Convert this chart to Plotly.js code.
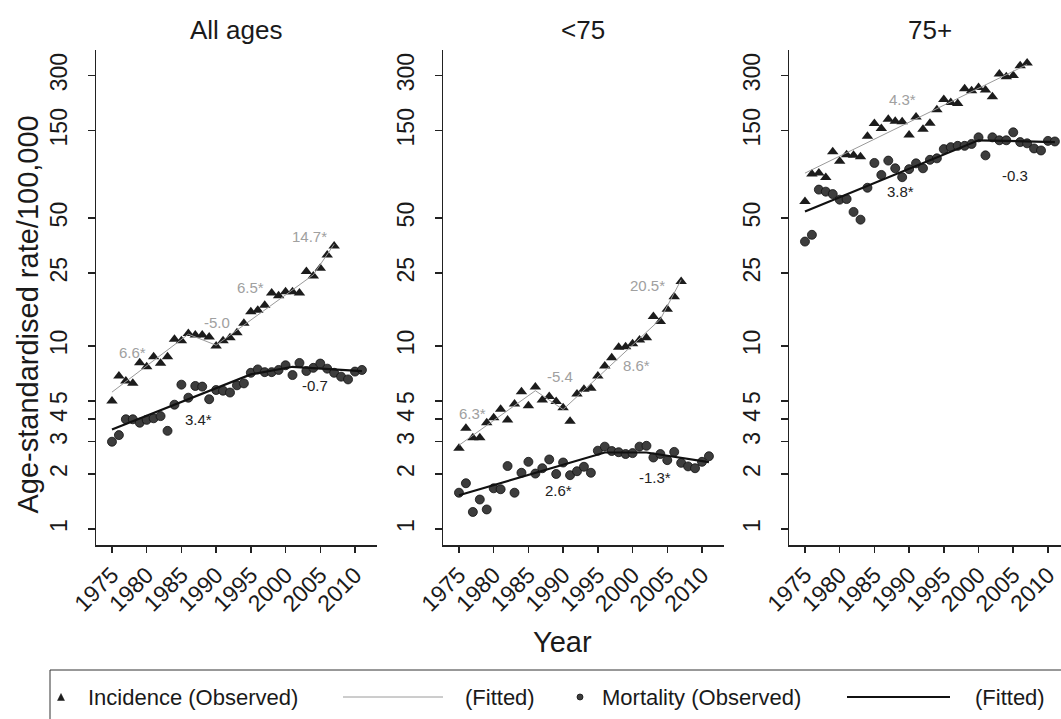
<!DOCTYPE html>
<html>
<head>
<meta charset="utf-8">
<script src="https://cdn.plot.ly/plotly-3.0.1.min.js"></script>
<style>html,body{margin:0;padding:0;background:#fff;}#chart{width:1061px;height:719px;}</style>
</head>
<body>
<div id="chart"></div>
<script>
// ---------- data ----------
const panelTitles = ["All ages", "&lt;75", "75+"];
const xTickVals = [1975, 1980, 1985, 1990, 1995, 2000, 2005, 2010];
const yTickVals = [1, 2, 3, 4, 5, 10, 25, 50, 150, 300];
const yTickText = ["1", "2", "3", "4", "5", "10", "25", "50", "150", "300"];

const yearsInc = [1975,1976,1977,1978,1979,1980,1981,1982,1983,1984,1985,1986,1987,1988,1989,1990,
  1991,1992,1993,1994,1995,1996,1997,1998,1999,2000,2001,2002,2003,2004,2005,2006,2007];
const yearsMort = [1975,1976,1977,1978,1979,1980,1981,1982,1983,1984,1985,1986,1987,1988,1989,1990,
  1991,1992,1993,1994,1995,1996,1997,1998,1999,2000,2001,2002,2003,2004,2005,2006,2007,2008,2009,2010,2011];

// All ages
const incAll = [5.0,6.86,6.44,6.26,8.11,7.71,8.74,8.04,8.74,10.9,10.7,11.7,11.5,11.5,11.2,10.0,
  10.7,11.1,11.8,13.3,15.4,15.7,16.7,19.5,18.8,19.8,19.8,19.5,25.5,24.1,26.6,31.4,35.2];
const mortAll = [3.0,3.26,3.98,3.98,3.81,3.95,4.03,4.14,3.44,4.78,6.15,5.22,6.05,6.0,5.12,5.75,
  5.7,5.57,6.1,6.25,7.14,7.45,7.2,7.2,7.4,7.85,6.94,8.08,7.3,7.6,8.02,7.52,7.14,6.8,6.57,7.25,7.4];
const incAllFitYears = [1975, 1986, 1990, 2004, 2007];
const incAllFit = [5.6, 11.6, 10.1, 24.5, 36];
const mortAllFitYears = [1975, 1995, 2001, 2011];
const mortAllFit = [3.5, 7.0, 7.7, 7.3];

// <75
const incU75 = [2.76,3.55,3.15,3.15,3.81,4.05,4.52,3.94,4.82,5.62,4.71,5.97,5.07,5.3,4.98,4.6,
  3.88,5.47,5.8,5.87,6.86,7.78,8.63,9.84,9.9,10.3,10.8,11.1,14.5,13.6,15.9,18.6,22.5];
const mortU75 = [1.58,1.78,1.24,1.45,1.28,1.67,1.65,2.21,1.58,2.03,2.33,2.01,2.15,2.4,2.0,2.31,
  1.97,2.07,2.19,2.03,2.68,2.82,2.67,2.63,2.57,2.6,2.82,2.85,2.46,2.57,2.38,2.64,2.3,2.2,2.15,2.33,2.5];
const incU75FitYears = [1975, 1986, 1990, 2004, 2007];
const incU75Fit = [2.87, 5.7, 4.5, 14.0, 23.0];
const mortU75FitYears = [1975, 1996, 2002, 2011];
const mortU75Fit = [1.53, 2.62, 2.62, 2.32];

// 75+
const inc75p = [61.5,87,88,83.4,115,102,111,110,108,140,164,154,173,169,168,142,
  178,153,165,195,222,214,211,254,248,258,250,230,306,296,300,340,351];
const mort75p = [37.2,40.5,71.5,69.7,67.6,63,63.5,54,49,73.2,100,86,103,93.5,83.6,92.5,
  99.5,93.5,104,106,119,122,124,124,127,138,110,138,133,133,147,130,128,120,117,132,131];
const inc75pFitYears = [1975, 2007];
const inc75pFit = [88, 345];
const mort75pFitYears = [1975, 2000, 2011];
const mort75pFit = [54.3, 133, 130];

// trend labels (annual percent change)
const apcLabels = [
  ["6.6*", "-5.0", "6.5*", "14.7*", "3.4*", "-0.7"],
  ["6.3*", "-5.4", "8.6*", "20.5*", "2.6*", "-1.3*"],
  ["4.3*", "3.8*", "-0.3"]
];
const apcIsIncidence = [
  [true, true, true, true, false, false],
  [true, true, true, true, false, false],
  [true, false, false]
];
// label positions: [year, log10(rate)]
const apcPos = [
  [[1978.0,0.962],[1990.1,1.126],[1994.9,1.317],[2003.5,1.596],[1987.4,0.596],[2004.2,0.787]],
  [[1977.0,0.634],[1989.6,0.831],[2000.6,0.891],[2002.2,1.328],[1989.3,0.213],[2003.2,0.284]],
  [[1989.1,2.344],[1988.7,1.842],[2005.3,1.934]]
];

// ---------- layout helpers ----------
const W = 1061, H = 719;
const PX = x => x / W;
const PY = y => 1 - y / H;
const FONT = "Liberation Sans, Arial, Helvetica, sans-serif";
const INK = "#1a1a1a";

const panels = [
  {inc: incAll, mort: mortAll, incFx: incAllFitYears, incF: incAllFit, mortFx: mortAllFitYears, mortF: mortAllFit,
   dom: [96, 377], range: [1972.70, 2013.17], cx: 236.5},
  {inc: incU75, mort: mortU75, incFx: incU75FitYears, incF: incU75Fit, mortFx: mortU75FitYears, mortF: mortU75Fit,
   dom: [443, 724], range: [1972.70, 2013.17], cx: 583},
  {inc: inc75p, mort: mort75p, incFx: inc75pFitYears, incF: inc75pFit, mortFx: mort75pFitYears, mortF: mort75pFit,
   dom: [789, 1061], range: [1972.70, 2011.88], cx: 929.5}
];

const traces = [];
const layout = {
  width: W, height: H,
  margin: {l: 0, r: 0, t: 0, b: 0},
  paper_bgcolor: "#fff", plot_bgcolor: "#fff",
  font: {family: FONT, color: INK},
  showlegend: false,
  annotations: [],
  shapes: []
};

panels.forEach((p, i) => {
  const s = i === 0 ? "" : String(i + 1);
  const xa = "x" + s, ya = "y" + s;
  traces.push({x: yearsInc, y: p.inc, xaxis: xa, yaxis: ya, mode: "markers", cliponaxis: false,
    marker: {symbol: "triangle-up", size: 10, color: "#1c1c1c"}, hoverinfo: "x+y"});
  traces.push({x: yearsMort, y: p.mort, xaxis: xa, yaxis: ya, mode: "markers", cliponaxis: false,
    marker: {symbol: "circle", size: 9, color: "#3d3d3d", line: {color: "#111", width: 0.8}}, hoverinfo: "x+y"});
  traces.push({x: p.incFx, y: p.incF, xaxis: xa, yaxis: ya, mode: "lines",
    line: {color: "#9a9a9a", width: 1}, hoverinfo: "skip"});
  traces.push({x: p.mortFx, y: p.mortF, xaxis: xa, yaxis: ya, mode: "lines",
    line: {color: "#111", width: 2.2}, hoverinfo: "skip"});

  layout["xaxis" + s] = {
    domain: [PX(p.dom[0]), PX(p.dom[1])], range: p.range, anchor: ya,
    showgrid: false, zeroline: false, showline: true, linecolor: "#222", linewidth: 1.5,
    ticks: "outside", ticklen: 6, tickwidth: 1.5, tickcolor: "#222",
    tickmode: "array", tickvals: xTickVals, tickangle: -45,
    tickfont: {size: 23, color: INK, family: FONT}
  };
  layout["yaxis" + s] = {
    type: "log", domain: [PY(545), PY(50)], range: [-0.087, 2.617], anchor: xa,
    showgrid: false, zeroline: false, showline: true, linecolor: "#222", linewidth: 1.5,
    ticks: "outside", ticklen: 7, tickwidth: 1.5, tickcolor: "#222",
    tickmode: "array", tickvals: yTickVals, ticktext: yTickText, tickangle: -90,
    ticklabelstandoff: 11,
    tickfont: {size: 23, color: INK, family: FONT}
  };
  layout.annotations.push({text: panelTitles[i], xref: "paper", yref: "paper",
    x: PX(p.cx), y: PY(30), xanchor: "center", yanchor: "middle", showarrow: false,
    font: {size: 26, color: INK, family: FONT}});

  apcLabels[i].forEach((t, k) => {
    layout.annotations.push({text: t, xref: xa, yref: ya, x: apcPos[i][k][0], y: apcPos[i][k][1],
      xanchor: "center", yanchor: "middle", showarrow: false,
      font: {size: 15, family: FONT, color: apcIsIncidence[i][k] ? "#a0a0a0" : "#222"}});
  });
});

// axis titles
layout.annotations.push({text: "Age-standardised rate/100,000", xref: "paper", yref: "paper",
  x: PX(27.5), y: PY(315), textangle: -90, xanchor: "center", yanchor: "middle", showarrow: false,
  font: {size: 29, color: INK, family: FONT}});
layout.annotations.push({text: "Year", xref: "paper", yref: "paper",
  x: PX(562), y: PY(642), xanchor: "center", yanchor: "middle", showarrow: false,
  font: {size: 29, color: INK, family: FONT}});

// legend box
const LY = 697;
layout.shapes.push({type: "rect", xref: "paper", yref: "paper",
  x0: PX(50), x1: PX(1075), y0: PY(735), y1: PY(670), line: {color: "#333", width: 1}, fillcolor: "rgba(0,0,0,0)"});
layout.shapes.push({type: "path", xref: "paper", yref: "paper",
  path: `M ${PX(57.5)} ${PY(LY + 3.5)} L ${PX(64.5)} ${PY(LY + 3.5)} L ${PX(61)} ${PY(LY - 3.5)} Z`,
  fillcolor: "#1c1c1c", line: {color: "#1c1c1c", width: 0.5}});
layout.shapes.push({type: "line", xref: "paper", yref: "paper",
  x0: PX(343), x1: PX(443), y0: PY(LY), y1: PY(LY), line: {color: "#9a9a9a", width: 1}});
layout.shapes.push({type: "circle", xref: "paper", yref: "paper",
  x0: PX(577), x1: PX(583), y0: PY(LY + 3), y1: PY(LY - 3), fillcolor: "#3d3d3d", line: {color: "#111", width: 0.8}});
layout.shapes.push({type: "line", xref: "paper", yref: "paper",
  x0: PX(847), x1: PX(950), y0: PY(LY), y1: PY(LY), line: {color: "#111", width: 2.2}});
const legendTexts = [["Incidence (Observed)", 86], ["(Fitted)", 463], ["Mortality (Observed)", 600], ["(Fitted)", 973]];
legendTexts.forEach(([t, x]) => {
  layout.annotations.push({text: t, xref: "paper", yref: "paper", x: PX(x), y: PY(LY),
    xanchor: "left", yanchor: "middle", showarrow: false, font: {size: 22, color: INK, family: FONT}});
});

Plotly.newPlot("chart", traces, layout, {displayModeBar: false, staticPlot: true});
</script>
</body>
</html>
